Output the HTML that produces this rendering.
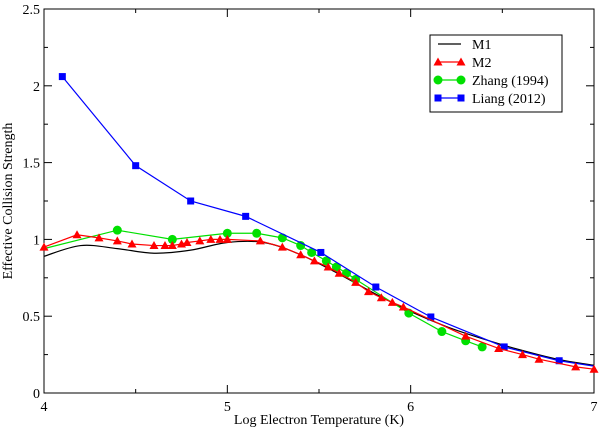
<!DOCTYPE html>
<html><head><meta charset="utf-8"><style>
body{margin:0;background:#fff}
text{font-family:"Liberation Serif",serif;fill:#000}
</style></head><body>
<svg id="c" width="600" height="431" xmlns="http://www.w3.org/2000/svg"></svg>
<script>
const m1X=[4,4.2,4.4,4.6,4.8,5.0,5.2,5.4,5.6,5.8,6.0,6.2,6.4,6.6,6.8,7];
const m1Y=[0.89,0.96,0.94,0.91,0.93,0.98,0.98,0.90,0.78,0.65,0.53,0.43,0.35,0.28,0.22,0.18];
const m2X=[4.0,4.18,4.30,4.40,4.48,4.60,4.66,4.70,4.75,4.78,4.85,4.91,4.96,5.0,5.18,5.30,5.40,5.475,5.55,5.61,5.70,5.77,5.84,5.90,5.96,6.30,6.48,6.61,6.70,6.90,7.0];
const m2Y=[0.95,1.03,1.01,0.99,0.97,0.96,0.96,0.96,0.97,0.98,0.99,1.0,1.0,1.0,0.99,0.95,0.90,0.86,0.82,0.78,0.72,0.66,0.62,0.59,0.56,0.37,0.29,0.25,0.22,0.17,0.155];
const zX=[4.4,4.7,5.0,5.16,5.3,5.4,5.46,5.54,5.595,5.65,5.70,5.99,6.17,6.30,6.39];
const zY=[1.06,1.0,1.04,1.04,1.01,0.96,0.915,0.86,0.82,0.78,0.74,0.52,0.40,0.34,0.30];
const lX=[4.1,4.5,4.8,5.1,5.51,5.81,6.11,6.51,6.81];
const lY=[2.06,1.48,1.25,1.15,0.915,0.69,0.495,0.30,0.21];
const xTicks=[4,5,6,7];
const yTicks=[0,0.5,1,1.5,2,2.5];
const yTickLabels=["0","0.5","1","1.5","2","2.5"];

const L=44,R=594,T=9,B=393;
const sx=v=>L+(v-4)/3*(R-L);
const sy=v=>B-v/2.5*(B-T);
const svg=document.getElementById('c');
const NS='http://www.w3.org/2000/svg';
function mk(tag,attrs,parent){const e=document.createElementNS(NS,tag);for(const k in attrs)e.setAttribute(k,attrs[k]);(parent||svg).appendChild(e);return e;}

const fr=mk('rect',{x:L,y:T,width:R-L,height:B-T,fill:'none',stroke:'#000','stroke-width':1});


for(let v=4;v<=7.001;v+=0.5){const major=Math.abs(v-Math.round(v))<1e-6;const len=major?8:4;
 mk('line',{x1:sx(v),x2:sx(v),y1:B,y2:B-len,stroke:'#000'});
 mk('line',{x1:sx(v),x2:sx(v),y1:T,y2:T+len,stroke:'#000'});}
for(let v=0;v<=2.501;v+=0.25){const major=Math.abs(v*2-Math.round(v*2))<1e-6;const len=major?8:4;
 mk('line',{x1:L,x2:L+len,y1:sy(v),y2:sy(v),stroke:'#000'});
 mk('line',{x1:R,x2:R-len,y1:sy(v),y2:sy(v),stroke:'#000'});}
xTicks.forEach(v=>{const t=mk('text',{x:sx(v),y:B+18,'text-anchor':'middle','font-size':14});t.textContent=v;
 
 });
yTicks.forEach((v,i)=>{const t=mk('text',{x:L-4,y:sy(v)+5,'text-anchor':'end','font-size':14});t.textContent=yTickLabels[i];
 
 });
const xt=mk('text',{x:(L+R)/2,y:424,'text-anchor':'middle','font-size':14});xt.textContent='Log Electron Temperature (K)';


const yt=mk('text',{x:0,y:0,'text-anchor':'middle','font-size':14,transform:`translate(12,${(T+B)/2}) rotate(-90)`});yt.textContent='Effective Collision Strength';



function line(xs,ys,color,name){const p=mk('polyline',{points:xs.map((x,i)=>sx(x)+','+sy(ys[i])).join(' '),fill:'none',stroke:color,'stroke-width':1.2});
 
 }
function smooth(xs,ys,color,name){
 const P=xs.map((x,i)=>[sx(x),sy(ys[i])]);let d='M'+P[0][0]+','+P[0][1];
 for(let i=0;i<P.length-1;i++){const p0=P[Math.max(0,i-1)],p1=P[i],p2=P[i+1],p3=P[Math.min(P.length-1,i+2)];
  const c1=[p1[0]+(p2[0]-p0[0])/6,p1[1]+(p2[1]-p0[1])/6],c2=[p2[0]-(p3[0]-p1[0])/6,p2[1]-(p3[1]-p1[1])/6];
  d+=` C${c1[0]},${c1[1]} ${c2[0]},${c2[1]} ${p2[0]},${p2[1]}`;}
 const p=mk('path',{d:d,fill:'none',stroke:color,'stroke-width':1.2});
 
 }
function marker(x,y,kind,color,g){
 if(kind==='tri')return mk('polygon',{points:`${x},${y-4.5} ${x-4.5},${y+3.5} ${x+4.5},${y+3.5}`,fill:color},g);
 if(kind==='circ')return mk('circle',{cx:x,cy:y,r:4.5,fill:color},g);
 return mk('rect',{x:x-3.5,y:y-3.5,width:7,height:7,fill:color},g);}
function pts(xs,ys,kind,color,name){const g=mk('g',{});
 
 
 xs.forEach((x,i)=>marker(sx(x),sy(ys[i]),kind,color,g));}

smooth(m1X,m1Y,'#000','m1-line');
line([4].concat(zX),[0.94].concat(zY),'#00e000','zhang-line');
pts(zX,zY,'circ','#00e000','zhang-points');
line(lX.concat([7]),lY.concat([0.175]),'#0000ff','liang-line');
pts(lX,lY,'sq','#0000ff','liang-points');
line(m2X,m2Y,'#ff0000','m2-line');
pts(m2X,m2Y,'tri','#ff0000','m2-points');

const lg=mk('g',{});


mk('rect',{x:430,y:35,width:132,height:77,fill:'#fff',stroke:'#000'},lg);
const ents=[['M1','#000',null],['M2','#ff0000','tri'],['Zhang (1994)','#00e000','circ'],['Liang (2012)','#0000ff','sq']];
ents.forEach((e,i)=>{const y=44+i*18;const g=mk('g',{},lg);
 
 
 mk('line',{x1:438,x2:461,y1:y,y2:y,stroke:e[1],'stroke-width':1.2},g);
 if(e[2]){marker(438,y,e[2],e[1],g);marker(461,y,e[2],e[1],g);}
 const t=mk('text',{x:472,y:y+5,'font-size':14},g);t.textContent=e[0];});
</script>
</body></html>
